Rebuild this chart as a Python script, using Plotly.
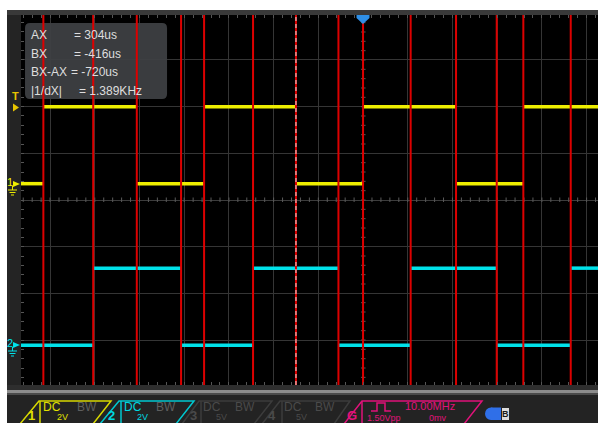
import plotly.graph_objects as go

# ---------------- data ----------------
time_per_div_us = 200
x_range_us = [-1530, 1051]
y_range_div = [-3.964, 3.964]

# CH1 (yellow) edge times in us, starting low, alternating rise/fall
ch1_edges_us = [-1430, -1012, -711, -300, 0, 416, 717]
ch1_levels_V = [0.0, 3.3]
ch1_scale_V_per_div = 2.0
ch1_offset_div = 0.35

# CH2 (cyan) edge times in us, starting low, alternating rise/fall
ch2_edges_us = [-1207, -814, -492, -110, 213, 598, 929]
ch2_levels_V = [0.0, 3.3]
ch2_scale_V_per_div = 2.0
ch2_offset_div = -3.11

# red edge markers (us)
red_marker_us = [-1430, -1207, -1012, -814, -711, -492, -300, -110, 0, 213, 416, 598, 717, 929]
# white dashed cursor (us)
cursor_us = [-300]

meas_labels = ["AX", "BX", "BX-AX", "|1/dX|"]
meas_values = ["= 304us", "= -416us", "= -720us", "= 1.389KHz"]

ch_names = ["1", "2", "3", "4"]
ch_coupling = ["DC", "DC", "DC", "DC"]
ch_scale_text = ["2V", "2V", "5V", "5V"]

gen_freq_text = "10.00MHz"
gen_amp_text = "1.50Vpp"
gen_off_text = "0mv"

# ---------------- helpers ----------------
W, H = 598, 423
PX_PER_US = 44.71 / 200.0
PX_PER_DIV_Y = 46.67


def X(px):
    return px / W


def Y(py):
    return 1 - py / H


def xd(px):
    return (px - 363) / PX_PER_US


def yd(py):
    return (200 - py) / PX_PER_DIV_Y


def level_segments(edges, levels, scale, offset):
    """Horizontal segments only (a scope shows the fast edges very dimly)."""
    def v(i):
        return levels[i] / scale + offset
    bounds = [x_range_us[0]] + list(edges) + [x_range_us[1]]
    xs, ys = [], []
    lvl = 0
    for a, b in zip(bounds[:-1], bounds[1:]):
        xs += [a, b, None]
        ys += [v(lvl), v(lvl), None]
        lvl = 1 - lvl
    return xs, ys


YELLOW = "#eeee00"
CYAN = "#00e2ea"
RED = "#dc0000"
MAGENTA = "#e0127a"
FONT = "Liberation Sans, Arial, sans-serif"

fig = go.Figure()

# center crosshair ticks (decoration)
cx, cy = [], []
k = -19
while k <= 19:
    yy = k * 0.2
    cx += [xd(361), xd(365.5), None]
    cy += [yy, yy, None]
    k += 1
t = -1520
while t <= 1051:
    cx += [t, t, None]
    cy += [yd(202), yd(197.5), None]
    t += 40
fig.add_trace(go.Scatter(x=cx, y=cy, mode="lines", line=dict(color="#5a5a5a", width=1),
                         hoverinfo="skip", showlegend=False))

# signals
x1, y1 = level_segments(ch1_edges_us, ch1_levels_V, ch1_scale_V_per_div, ch1_offset_div)
x2, y2 = level_segments(ch2_edges_us, ch2_levels_V, ch2_scale_V_per_div, ch2_offset_div)
fig.add_trace(go.Scatter(x=x1, y=y1, mode="lines", line=dict(color=YELLOW, width=3.5),
                         hoverinfo="skip", showlegend=False))
fig.add_trace(go.Scatter(x=x2, y=y2, mode="lines", line=dict(color=CYAN, width=3.5),
                         hoverinfo="skip", showlegend=False))

# red markers
rx, ry = [], []
for m in red_marker_us:
    rx += [m, m, None]
    ry += [y_range_div[0], y_range_div[1], None]
fig.add_trace(go.Scatter(x=rx, y=ry, mode="lines", line=dict(color=RED, width=2),
                         hoverinfo="skip", showlegend=False))

# dashed cursor
dx, dy = [], []
for c in cursor_us:
    dx += [c, c, None]
    dy += [y_range_div[0], y_range_div[1], None]
fig.add_trace(go.Scatter(x=dx, y=dy, mode="lines", line=dict(color="#e8e8e8", width=1, dash="4px,3px"),
                         hoverinfo="skip", showlegend=False))

shapes = []


def prect(x0, y0, x1_, y1_, color):
    shapes.append(dict(type="rect", xref="paper", yref="paper", x0=X(x0), x1=X(x1_),
                       y0=Y(y1_), y1=Y(y0), fillcolor=color, line=dict(width=0), layer="above"))


def ppath(pts, color=None, fill=None, width=1.5, close=False):
    d = "M" + " L".join(f"{X(a):.5f},{Y(b):.5f}" for a, b in pts)
    if close:
        d += " Z"
    shapes.append(dict(type="path", xref="paper", yref="paper", path=d,
                       line=dict(color=color or "rgba(0,0,0,0)", width=width if color else 0),
                       fillcolor=fill or "rgba(0,0,0,0)", layer="above"))


# frame
prect(7, 10, 21, 423, "#242424")
prect(7, 10, 598, 15, "#393939")
prect(7, 385, 598, 423, "#232323")
prect(7, 385, 598, 390, "#2e2e2e")
prect(7, 390, 598, 393, "#8c8c8c")
prect(7, 393, 598, 395, "#4a4a4a")

# measurement box (between grid and traces)
bx0, bx1, by0, by1, r = 25, 167, 23, 99, 5
box_path = (f"M{xd(bx0 + r)},{yd(by0)} L{xd(bx1 - r)},{yd(by0)} Q{xd(bx1)},{yd(by0)} {xd(bx1)},{yd(by0 + r)} "
            f"L{xd(bx1)},{yd(by1 - r)} Q{xd(bx1)},{yd(by1)} {xd(bx1 - r)},{yd(by1)} "
            f"L{xd(bx0 + r)},{yd(by1)} Q{xd(bx0)},{yd(by1)} {xd(bx0)},{yd(by1 - r)} "
            f"L{xd(bx0)},{yd(by0 + r)} Q{xd(bx0)},{yd(by0)} {xd(bx0 + r)},{yd(by0)} Z")
shapes.append(dict(type="path", xref="x", yref="y", path=box_path, fillcolor="rgba(62,65,68,0.93)",
                   line=dict(width=0), layer="between"))

# trigger position marker (top)
ppath([(356.5, 15), (369.5, 15), (369.5, 18), (363, 24), (356.5, 18)], fill="#2f8fe6", close=True)
# trigger level marker (left)
ppath([(13, 103.5), (19, 107.5), (13, 111.5)], fill="#e8c400", close=True)
# channel markers + ground symbols
for yy, col in [(184, YELLOW), (345, CYAN)]:
    ppath([(13, yy - 3), (20, yy), (13, yy + 3)], fill=col, close=True)
    ppath([(12.5, yy + 2), (12.5, yy + 6)], color=col, width=1)
    ppath([(8, yy + 6), (17, yy + 6)], color=col, width=1)
    ppath([(9.5, yy + 8.5), (15.5, yy + 8.5)], color=col, width=1)
    ppath([(11, yy + 11), (14, yy + 11)], color=col, width=1)

# bottom channel boxes
boxes = [
    ([(20, 424), (39, 401), (111, 401), (93, 424)], 40, "#d8d800"),
    ([(100, 424), (119, 401), (194, 401), (176, 424)], 121, "#00c8d0"),
    ([(182, 424), (199, 401), (272, 401), (254, 424)], 201, "#3c3c3c"),
    ([(262, 424), (280, 401), (350, 401), (334, 424)], 282, "#3c3c3c"),
]
for pts, sep, col in boxes:
    ppath(pts, color=col, width=1.5)
    ppath([(sep, 401), (sep, 424)], color=col, width=1.5)
ppath([(344, 424), (362, 401), (482, 401), (464, 424)], color=MAGENTA, width=1.5)
ppath([(362, 401), (362, 424)], color=MAGENTA, width=1.5)
# square-wave icon
ppath([(371, 411), (377, 411), (377, 403), (385, 403), (385, 411), (391, 411)], color=MAGENTA, width=1.5)
# blue pill icon
shapes.append(dict(type="circle", xref="paper", yref="paper", x0=X(485), x1=X(497), y0=Y(420), y1=Y(407.5),
                   fillcolor="#2f6fe8", line=dict(width=0), layer="above"))
prect(491, 407.5, 501, 420, "#2f6fe8")
prect(502, 408, 509, 420, "#dcdcdc")

annotations = []


def txt(s, x, y, color, size=12, anchor="center", bold=False, italic=False):
    if bold:
        s = f"<b>{s}</b>"
    if italic:
        s = f"<i>{s}</i>"
    annotations.append(dict(text=s, x=X(x), y=Y(y), xref="paper", yref="paper", showarrow=False,
                            xanchor=anchor, yanchor="middle", font=dict(color=color, size=size, family=FONT)))


# measurement text
eq_x = [72, 72, 69, 77]
row_y = [35, 54, 72.5, 91]
for lab, val, ex, ry_ in zip(meas_labels, meas_values, eq_x, row_y):
    txt(lab, 29, ry_, "#dedede", 12, "left")
    txt(val, ex, ry_, "#dedede", 12, "left")

# left markers
txt("T", 15.5, 95.5, "#e8c400", 11, bold=True)
txt("1", 10, 182, YELLOW, 11)
txt("2", 10, 343, CYAN, 11)

# channel labels
ch_cols = ["#e0e000", "#00d8e0", "#4a4a4a", "#4a4a4a"]
num_x = [31, 112, 193, 272]
dc_x = [52, 133, 212, 293]
bw_x = [87, 166, 245, 325]
sc_x = [62, 142, 222, 301]
for i in range(4):
    c_main = ch_cols[i]
    txt(ch_names[i], num_x[i], 415.5, c_main, 13, bold=True)
    txt(ch_coupling[i], dc_x[i], 407, c_main, 12)
    txt("BW", bw_x[i], 407, "#5e5e5e" if i < 2 else "#4a4a4a", 12)
    txt(ch_scale_text[i], sc_x[i], 417, c_main, 9)

txt("G", 352, 415.5, MAGENTA, 13, bold=True)
txt(gen_freq_text, 430, 405.5, MAGENTA, 11)
txt(gen_amp_text, 384, 417.5, MAGENTA, 9)
txt(gen_off_text, 438, 417.5, MAGENTA, 9)
txt("B", 505.5, 414, "#1a1a1a", 9, bold=True)

fig.update_layout(
    width=W, height=H,
    margin=dict(l=0, r=0, t=0, b=0),
    paper_bgcolor="#ffffff",
    plot_bgcolor="#000000",
    showlegend=False,
    shapes=shapes,
    annotations=annotations,
    xaxis=dict(domain=[X(21), 1], range=x_range_us, tick0=0, dtick=time_per_div_us,
               showgrid=True, gridcolor="#353535", gridwidth=1, zeroline=True, zerolinecolor="#3c3c3c",
               zerolinewidth=1, showticklabels=False, ticks="inside", ticklen=3, tickcolor="#555555",
               mirror="ticks", showline=False,
               minor=dict(ticks="inside", ticklen=3, dtick=40, tickcolor="#555555", showgrid=False),
               fixedrange=True),
    yaxis=dict(domain=[Y(385), Y(15)], range=y_range_div, tick0=0, dtick=1,
               showgrid=True, gridcolor="#353535", gridwidth=1, zeroline=True, zerolinecolor="#3c3c3c",
               zerolinewidth=1, showticklabels=False, ticks="inside", ticklen=3, tickcolor="#555555",
               showline=False,
               minor=dict(ticks="inside", ticklen=3, dtick=0.2, tickcolor="#555555", showgrid=False),
               fixedrange=True),
)

fig.write_html("out.html")
